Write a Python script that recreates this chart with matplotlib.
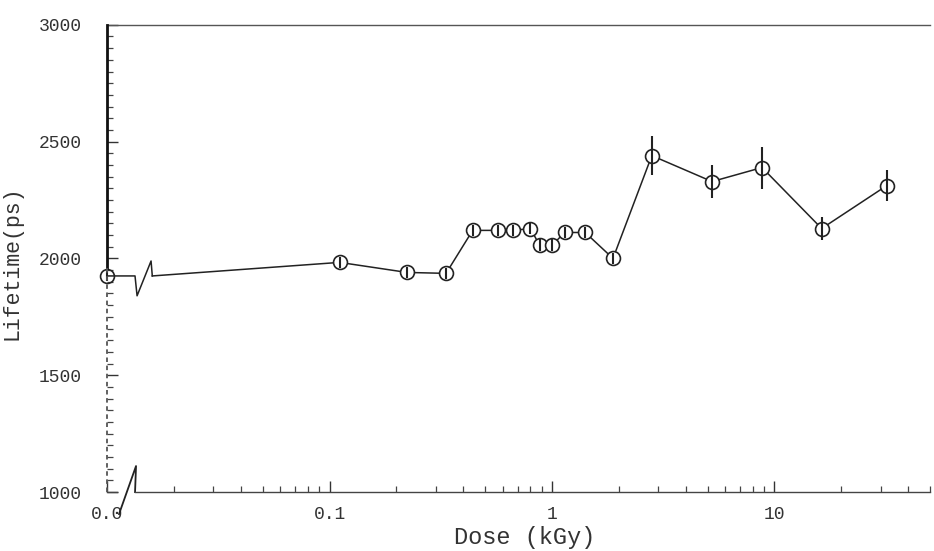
import numpy as np
import matplotlib
matplotlib.use('Agg')
import matplotlib.pyplot as plt
from matplotlib.ticker import LogLocator, MultipleLocator, FixedLocator, FixedFormatter, NullFormatter
import matplotlib.transforms as mtransforms

# ---- data ----
dose_kgy = [0.111, 0.223, 0.334, 0.44, 0.57, 0.67, 0.80, 0.88, 1.0, 1.14, 1.41, 1.88,
            2.81, 5.24, 8.79, 16.3, 32.0]
lifetime_ps = [1983, 1940, 1936, 2120, 2120, 2120, 2128, 2056, 2056, 2111, 2111, 2000,
               2440, 2329, 2389, 2128, 2312]
lifetime_err = [25, 25, 25, 25, 25, 25, 25, 25, 25, 25, 25, 25,
                85, 70, 90, 50, 68]
# unirradiated sample (dose 0), drawn at the left edge of the log axis
dose0_label = "0.0"
lifetime0 = 1925
lifetime0_err = 20

xtick_pos = [0.01, 0.1, 1, 10]
xtick_labels = ["0.0", "0.1", "1", "10"]
ytick_pos = [1000, 1500, 2000, 2500, 3000]
ytick_labels = ["1000", "1500", "2000", "2500", "3000"]

xmin, xmax = 0.01, 50
ymin, ymax = 1000, 3000

C = '#222222'
FONT = 'Liberation Mono'

fig = plt.figure(figsize=(9.34, 5.51), dpi=100)
ax = fig.add_axes([0.1146, 0.107, 0.8811, 0.848])
ax.set_xscale('log')
ax.set_xlim(xmin, xmax)
ax.set_ylim(ymin, ymax)


def frac_to_x(f):
    return xmin * (xmax / xmin) ** f


# main series: line, white-backed circles, then error bars through them
ax.plot(dose_kgy, lifetime_ps, '-', color=C, lw=1.1, zorder=3)
ax.plot(dose_kgy, lifetime_ps, 'o', mfc='white', mec=C, mew=1.2, ms=10, zorder=4)
ax.errorbar(dose_kgy, lifetime_ps, yerr=lifetime_err, fmt='none',
            ecolor=C, elinewidth=1.5, capsize=0, zorder=5)

# dose-0 point on the axis
ax.plot([xmin], [lifetime0], 'o', mfc='none', mec=C, mew=1.2, ms=10, zorder=4, clip_on=False)
ax.errorbar([xmin], [lifetime0], yerr=[lifetime0_err], fmt='none',
            ecolor=C, elinewidth=1.5, capsize=0, zorder=5, clip_on=False)

# broken connecting line between dose 0 and first dose
fx = [0.0, 0.034, 0.0365, 0.0535, 0.055]
dy = [0, 0, -85, 64, 0]
bx = [frac_to_x(f) for f in fx]
by = [lifetime0 + d for d in dy]
ax.plot(bx, by, '-', color=C, lw=1.1, zorder=3, clip_on=False)
ax.plot([bx[-1], dose_kgy[0]], [by[-1], lifetime_ps[0]], '-', color=C, lw=1.1, zorder=3)

# spines
ax.spines['right'].set_visible(False)
ax.spines['top'].set_color('#555555')
ax.spines['top'].set_linewidth(1.0)
ax.spines['bottom'].set_color('#444444')
ax.spines['bottom'].set_linewidth(1.0)
ax.spines['bottom'].set_bounds(frac_to_x(0.034), xmax)
ax.spines['left'].set_visible(False)

# left axis: solid upper part, dotted lower part
tl = mtransforms.blended_transform_factory(ax.transAxes, ax.transData)
ax.plot([0, 0], [1960, 3000], color='#111111', lw=2.0, transform=tl, clip_on=False, zorder=5)
ax.plot([0, 0], [1000, 1960], color='#555555', lw=1.3, ls=(0, (2.5, 2)), transform=tl,
        clip_on=False, zorder=5)

# x-axis break mark at lower left
W, H = 823.0, 467.0
ax.plot([0, 10 / W], [0, 0], color='#444444', lw=1.0, transform=ax.transAxes, clip_on=False)
ax.plot([12 / W, 29 / W, 28 / W], [-22 / H, 26 / H, 0], color=C, lw=1.3,
        transform=ax.transAxes, clip_on=False)

# ticks
ax.xaxis.set_major_locator(FixedLocator(xtick_pos))
ax.xaxis.set_major_formatter(FixedFormatter(xtick_labels))
ax.xaxis.set_minor_locator(LogLocator(base=10, subs=np.arange(2, 10), numticks=20))
ax.xaxis.set_minor_formatter(NullFormatter())
ax.yaxis.set_major_locator(FixedLocator(ytick_pos))
ax.yaxis.set_major_formatter(FixedFormatter(ytick_labels))
ax.yaxis.set_minor_locator(MultipleLocator(50))

ax.tick_params(axis='both', which='major', direction='in', length=8, width=1.0, color='#333333')
ax.tick_params(axis='both', which='minor', direction='in', length=4, width=0.9, color='#444444')
ax.tick_params(axis='x', which='both', top=False, pad=10)
ax.tick_params(axis='y', which='both', right=False, pad=18)

for lab in ax.get_xticklabels():
    lab.set_fontfamily(FONT)
    lab.set_fontsize(13)
    lab.set_color('#333333')
for lab in ax.get_yticklabels():
    lab.set_fontfamily(FONT)
    lab.set_fontsize(13)
    lab.set_color('#333333')

ax.set_xlabel('Dose (kGy)', fontfamily=FONT, fontsize=17, color='#333333', labelpad=0)
ax.set_ylabel('Lifetime(ps)', fontfamily=FONT, fontsize=15.5, color='#333333', labelpad=4)
ax.xaxis.set_label_coords(0.508, -0.073)
ax.yaxis.set_label_coords(-0.103, 0.49)

fig.savefig('out.png', dpi=100)
